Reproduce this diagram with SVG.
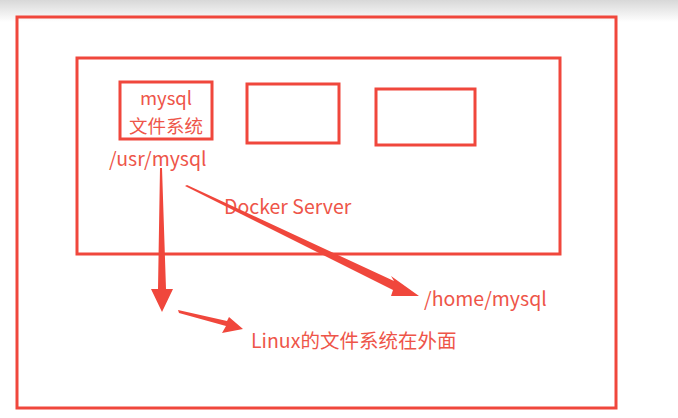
<svg xmlns="http://www.w3.org/2000/svg" width="678" height="418" viewBox="0 0 678 418">
<defs><linearGradient id="g" x1="0" y1="0" x2="0" y2="1"><stop offset="0" stop-color="#d8d8d8"/><stop offset="1" stop-color="#ffffff"/></linearGradient></defs>
<style>
.b{fill:none;stroke:#f0473c;stroke-width:3}
.t{fill:#ee5549;font-family:"Noto Sans CJK SC","Noto Sans",sans-serif;font-size:19.5px}
.a{fill:#f0473c}
</style>
<rect width="678" height="418" fill="#fff"/>
<rect width="678" height="22" fill="url(#g)"/>
<g id="outer"><rect class="b" x="17" y="17" width="599" height="391"/></g>
<g id="docker"><rect class="b" x="77" y="58" width="483" height="196"/><text class="t" x="224" y="214">Docker Server</text></g>
<g id="mysqlfs"><rect class="b" x="120" y="82" width="92" height="57"/><text class="t" x="166" y="105" text-anchor="middle" style="font-size:18.5px">mysql</text><text class="t" x="166" y="133" text-anchor="middle" style="font-size:18.5px">文件系统</text></g>
<g id="box2"><rect class="b" x="247" y="84" width="92" height="59"/></g>
<g id="box3"><rect class="b" x="376" y="89" width="99" height="56"/></g>
<g id="usr"><text class="t" x="109" y="166">/usr/mysql</text></g>
<g id="home"><text class="t" x="424" y="306">/home/mysql</text></g>
<g id="linux"><text class="t" x="251" y="348">Linux的文件系统在外面</text></g>
<g id="connectors">
<polygon class="a" points="160,168 162,168 166,289 173,289 162,312 151,289 158,289"/>
<polygon class="a" points="185,186 187,185 394,281 391,276 419,296 391,296 393,290"/>
<polygon class="a" points="178,310 179,313 226,326 222,333 243,329 229,317 227,321"/>
</g>
</svg>
